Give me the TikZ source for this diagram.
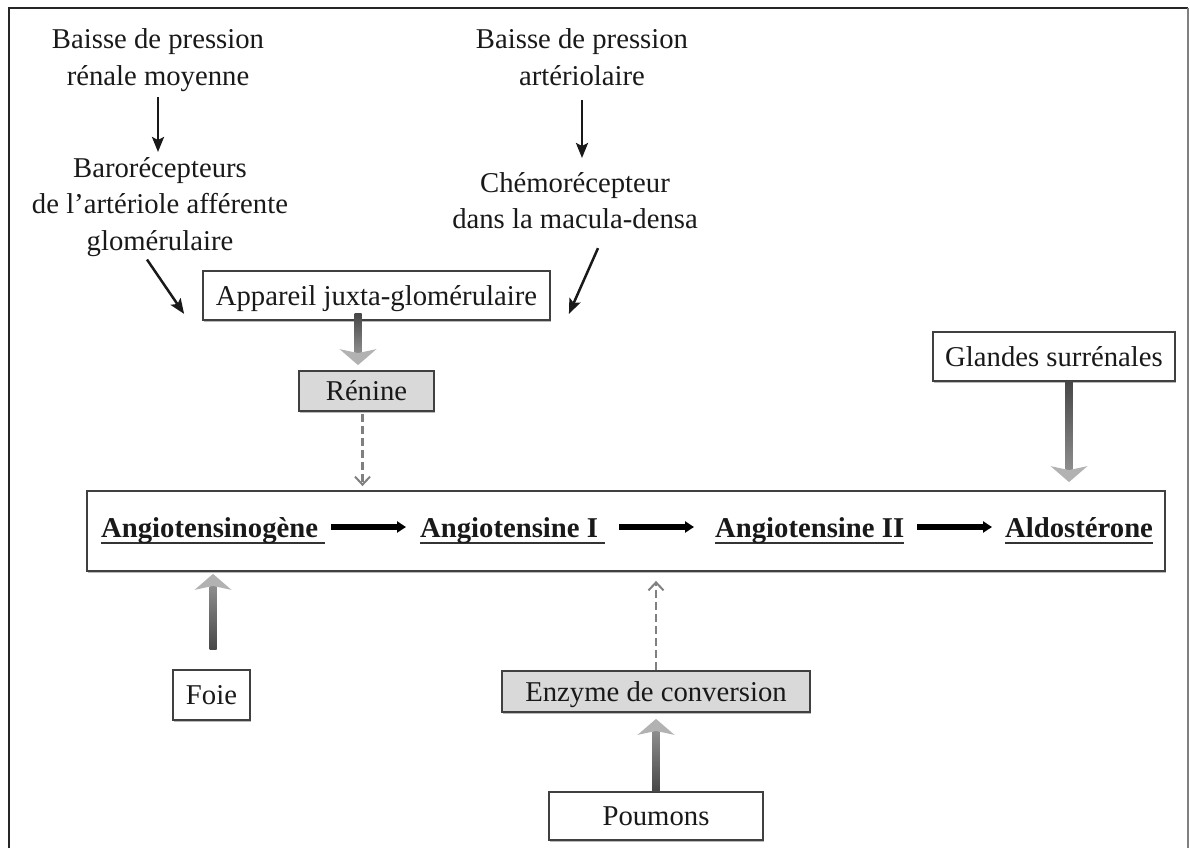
\documentclass[tikz,border=0pt]{standalone}
\usepackage{fontspec}
\setmainfont{Liberation Serif}
\usetikzlibrary{arrows.meta,calc,shadows}

\newcommand\ulx[1]{\setbox0\hbox{#1}\rlap{\color{black!80}\rule[-6.5pt]{\wd0}{1.8pt}}\box0}

% gradient gray block arrows (vertical)
\newcommand\gdown[2]{%
  \shade[top color=black!72, bottom color=black!45] ($(#1)+(-3.5,0)$) rectangle ($(#2)+(3.5,-13)$);
  \fill[black!30] ($(#2)+(-18.5,-16)$) -- ($(#2)+(0,-12)$) -- ($(#2)+(18.5,-16)$) -- (#2) -- cycle;}
\newcommand\gup[2]{%
  \shade[top color=black!45, bottom color=black!72] ($(#2)+(-3.5,13)$) rectangle ($(#1)+(3.5,0)$);
  \fill[black!30] ($(#2)+(-18.5,16)$) -- ($(#2)+(0,12)$) -- ($(#2)+(18.5,16)$) -- (#2) -- cycle;}

\begin{document}
\begin{tikzpicture}[x=1pt,y=-1pt,
  every node/.style={font=\fontsize{28.7}{36.5}\selectfont, text=black!90, inner sep=0pt},
  lbl/.style={align=center, anchor=north},
  box/.style={draw=black!75, line width=1.8pt, fill=white, text height=19pt, text depth=0pt,
    drop shadow={shadow xshift=0.8pt, shadow yshift=-1.8pt, opacity=0.45, fill=black!60}},
  graybox/.style={box, fill=black!15},
  chem/.style={font=\bfseries\fontsize{28.7}{36.5}\selectfont, anchor=base west, text height=20pt, text depth=0pt},
  blackarrow/.style={-{Stealth[length=15pt,width=12pt,inset=3pt]}, line width=2.5pt, black!90},
  blackthick/.style={-{Triangle[length=9pt,width=11pt]}, line width=6pt, black},
  dasharrow/.style={-{Straight Barb[length=8pt,width=15pt,line width=2pt]}, line width=2.3pt, black!50, dash pattern=on 8pt off 4pt},
]
\useasboundingbox (0,0) rectangle (1190,848);

% outer frame
\draw[line width=2.6pt, black!85] (9,848) -- (9,8) -- (1188,8);
\draw[line width=1.6pt, black!50] (1188,8) -- (1188,848);

% boxes
\node[box, minimum width=347pt, minimum height=49pt] (app) at (376.5,295.5) {Appareil juxta-glomérulaire};
\node[graybox, minimum width=135pt, minimum height=40pt] (ren) at (366.5,391) {Rénine};
\node[box, minimum width=242pt, minimum height=49pt] (gl) at (1054,356.5) {Glandes surrénales};
\node[box, minimum width=1078pt, minimum height=80pt] (main) at (626,531) {};
\node[box, minimum width=77pt, minimum height=50pt] (foie) at (211.5,695) {Foie};
\node[graybox, minimum width=308pt, minimum height=41pt] (enz) at (656,691.5) {Enzyme de conversion};
\node[box, minimum width=214pt, minimum height=48pt] (poum) at (656,816) {Poumons};

% free texts
\node[lbl] (b1) at (158,28.4) {Baisse de pression\\rénale moyenne};
\node[lbl] (b2) at (582,28.4) {Baisse de pression\\artériolaire};
\node[lbl] (baro) at (160,157) {Barorécepteurs\\de l’artériole afférente\\glomérulaire};
\node[lbl] (chemo) at (575,172) {Chémorécepteur\\dans la macula-densa};

% chain
\node[chem] (t1) at (101,537) {\ulx{Angiotensinogène\ }};
\node[chem] (t2) at (420,537) {\ulx{Angiotensine I\ }};
\node[chem] (t3) at (715,537) {\ulx{Angiotensine II}};
\node[chem] (t4) at (1005,537) {\ulx{Aldostérone}};

\draw[blackthick, shorten <=6pt, shorten >=14pt] (t1.east) -- (t2.west);
\draw[blackthick, shorten <=14pt, shorten >=21pt] (t2.east) -- (t3.west);
\draw[blackthick, shorten <=13pt, shorten >=13pt] (t3.east) -- (t4.west);

% black thin arrows
\draw[blackarrow, shorten <=6pt, shorten >=5pt] (b1.south) -- (b1.south |- baro.north);
\draw[blackarrow, shorten <=15pt, shorten >=14pt] (b2.south) -- (b2.south |- chemo.north);
\coordinate (d1s) at ($(baro.south)+(-13,3)$);
\coordinate (d1e) at ($(app.south west)+(-18,-7)$);
\draw[blackarrow] (d1s) -- (d1e);
\coordinate (d2s) at ($(chemo.south)+(23,19)$);
\coordinate (d2e) at ($(app.south east)+(18,-7)$);
\draw[blackarrow] (d2s) -- (d2e);

% dashed arrows
\coordinate (r1) at ($(ren.south)+(-4,2)$);
\coordinate (r2) at ($(ren.south |- main.north)+(-4,-4)$);
\draw[dasharrow] (r1) -- (r2);
\coordinate (e2) at ($(enz.north |- main.south)+(0,9)$);
\draw[dasharrow] (enz.north) -- (e2);

% gray block arrows
\coordinate (g1a) at ($(app.south)+(-18.5,-7)$);
\coordinate (g1b) at ($(ren.north)+(-8.5,-5)$);
\gdown{g1a}{g1b}
\coordinate (g2a) at ($(gl.south)+(15,0)$);
\coordinate (g2b) at ($(gl.south |- main.north)+(15,-8)$);
\gdown{g2a}{g2b}
\coordinate (g3a) at ($(foie.north)+(1.5,-20)$);
\coordinate (g3b) at ($(foie.north |- main.south)+(1.5,2)$);
\gup{g3a}{g3b}
\coordinate (g4a) at (poum.north);
\coordinate (g4b) at ($(poum.north |- enz.south)+(0,6)$);
\gup{g4a}{g4b}
\end{tikzpicture}
\end{document}
